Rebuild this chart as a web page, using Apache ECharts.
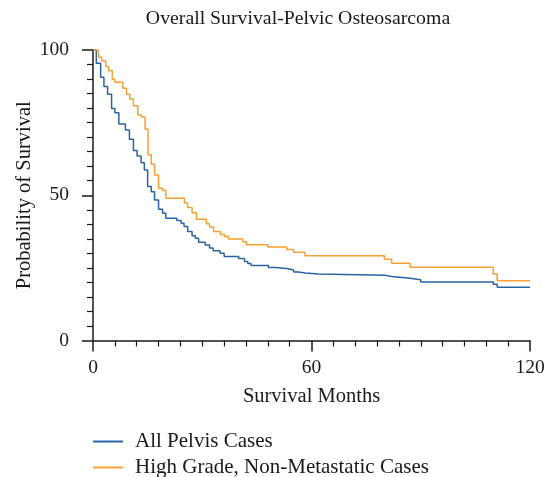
<!DOCTYPE html>
<html><head><meta charset="utf-8">
<script src="https://cdn.jsdelivr.net/npm/echarts@6/dist/echarts.min.js"></script>
<style>html,body{margin:0;padding:0;background:#fff}#c{width:554px;height:477px}</style>
</head><body><div id="c"></div>
<script>
const titleText = 'Overall Survival-Pelvic Osteosarcoma';
const seriesNames = ['All Pelvis Cases', 'High Grade, Non-Metastatic Cases'];
const xTicks = [0, 60, 120];
const yTicks = [0, 50, 100];
// Kaplan-Meier steps: [month, survival %] (value holds until next month)
const allPelvisMonths = [0, 0.9, 2.1, 3.0, 4.0, 5.1, 6.0, 7.1, 8.9, 10.0, 11.1, 12.1, 13.2, 14.1, 15.0, 16.0, 16.9, 18.0, 19.1, 20.0, 23.0, 24.2, 25.0, 26.0, 27.2, 28.1, 29.0, 30.8, 32.0, 33.0, 34.9, 36.0, 40.0, 41.6, 42.5, 43.4, 48.2, 50.1, 53.2, 55.1, 56.4, 58.3, 61.9, 80.0, 82.0, 87.1, 90.0, 109.9, 111.0, 120];
const allPelvisSurv = [100, 95.4, 90.6, 87.4, 84.8, 79.9, 78.4, 74.5, 72.5, 69.3, 65.4, 63.5, 61.2, 58.7, 53.0, 51.2, 48.4, 45.2, 43.8, 42.1, 41.3, 40.4, 39.2, 37.5, 36.1, 35.2, 33.8, 32.9, 31.8, 30.9, 30.0, 28.9, 28.2, 27.2, 26.5, 25.8, 25.1, 24.8, 24.3, 23.6, 23.2, 22.9, 22.5, 22.0, 21.4, 20.9, 20.1, 19.4, 18.3, 18.3];
const highGradeMonths = [0, 1.5, 2.4, 3.5, 4.3, 5.3, 6.0, 8.2, 9.2, 10.1, 11.1, 12.3, 13.3, 14.3, 15.1, 16.0, 16.9, 18.0, 19.1, 20.0, 25.1, 26.0, 27.2, 28.4, 31.1, 32.0, 33.1, 35.0, 36.1, 37.2, 41.1, 42.1, 48.0, 53.2, 55.1, 58.2, 80.0, 82.0, 87.1, 109.9, 111.0, 120];
const highGradeSurv = [100, 97.5, 96.2, 94.3, 92.9, 89.9, 88.9, 86.8, 84.8, 83.1, 80.8, 77.6, 76.9, 72.7, 63.9, 60.7, 57.0, 52.4, 51.6, 49.0, 47.3, 45.8, 44.0, 41.7, 40.2, 39.1, 37.5, 36.5, 35.8, 34.9, 34.0, 33.0, 32.2, 31.3, 30.4, 29.2, 28.0, 26.6, 25.2, 22.9, 20.6, 20.6];

const FONT = '"Liberation Serif", "DejaVu Serif", serif';
const TXT = '#1a1a1a';
const colors = ['#2a64a4', '#f7a035'];
const pair = (xs, ys) => xs.map((x, i) => [x, ys[i]]);

const chart = echarts.init(document.getElementById('c'), null, {renderer: 'canvas'});
const axisCommon = {
  axisLine: {lineStyle: {color: TXT, width: 1.5}},
  axisTick: {show: true, length: 11, lineStyle: {color: TXT, width: 1.5}},
  minorTick: {show: true, splitNumber: 10, length: 6, lineStyle: {color: TXT, width: 1.2}},
  splitLine: {show: false},
  nameMoveOverlap: false,
  nameTextStyle: {fontFamily: FONT, fontSize: 20.5, color: TXT},
};
const legendCommon = {
  orient: 'horizontal', left: 93, itemWidth: 30, itemHeight: 2, padding: 0,
  icon: 'rect',
  textStyle: {fontFamily: FONT, fontSize: 21, color: TXT, padding: [0, 0, 0, 7]}
};
chart.setOption({
  animation: false,
  color: colors,
  title: {text: titleText, left: 293, textAlign: 'center', top: 4, textStyle: {fontFamily: FONT, fontSize: 19.8, fontWeight: 'normal', color: TXT}},
  grid: {left: 93, right: 24, top: 50, bottom: 136.5, containLabel: false},
  legend: [
    Object.assign({}, legendCommon, {top: 431, data: [seriesNames[0]]}),
    Object.assign({}, legendCommon, {top: 457, data: [seriesNames[1]]})
  ],
  xAxis: Object.assign({}, axisCommon, {
    type: 'value', min: xTicks[0], max: xTicks[xTicks.length - 1], interval: xTicks[1] - xTicks[0],
    name: 'Survival Months', nameLocation: 'middle', nameGap: 46,
    axisLabel: {fontFamily: FONT, fontSize: 19.5, color: TXT, margin: 17}
  }),
  yAxis: Object.assign({}, axisCommon, {
    type: 'value', min: yTicks[0], max: yTicks[yTicks.length - 1], interval: yTicks[1] - yTicks[0],
    name: 'Probability of Survival', nameLocation: 'middle', nameGap: 58,
    axisLabel: {fontFamily: FONT, fontSize: 19.5, color: TXT, margin: 24}
  }),
  series: [
    {name: seriesNames[0], type: 'line', step: 'end', showSymbol: false, data: pair(allPelvisMonths, allPelvisSurv), lineStyle: {width: 1.5}},
    {name: seriesNames[1], type: 'line', step: 'end', showSymbol: false, data: pair(highGradeMonths, highGradeSurv), lineStyle: {width: 1.5}}
  ]
});
</script></body></html>
